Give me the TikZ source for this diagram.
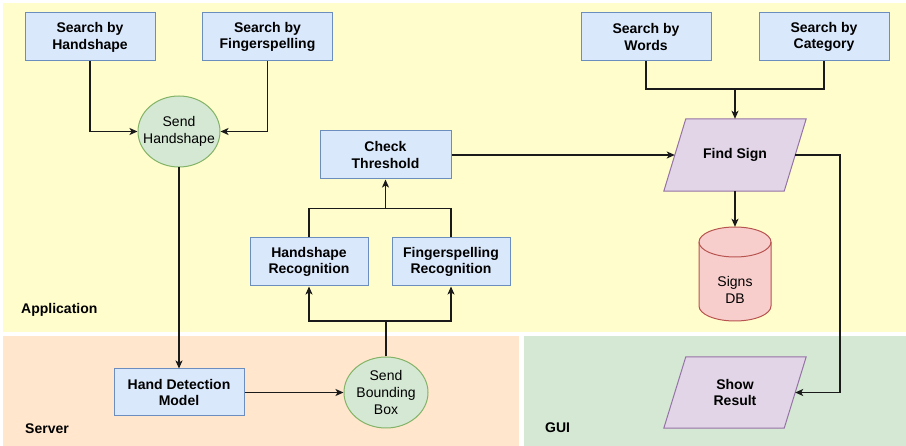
\documentclass[tikz,border=0pt]{standalone}
\usepackage{fontspec}
\setmainfont{Liberation Sans}
\usetikzlibrary{arrows.meta,shapes.geometric}
\definecolor{appc}{HTML}{FFFDCC}
\definecolor{serc}{HTML}{FFE6CC}
\definecolor{guic}{HTML}{D5E8D4}
\definecolor{boxfill}{HTML}{DAE8FC}
\definecolor{boxline}{HTML}{6C8EBF}
\definecolor{gfill}{HTML}{D5E8D4}
\definecolor{gline}{HTML}{82B366}
\definecolor{pfill}{HTML}{E1D5E7}
\definecolor{pline}{HTML}{9673A6}
\definecolor{rfill}{HTML}{F8CECC}
\definecolor{rline}{HTML}{B85450}
\definecolor{edge}{HTML}{1A1A1A}
\pgfdeclarelayer{back}
\pgfdeclarelayer{mid}
\pgfsetlayers{back,mid,main}
\begin{document}
\begin{tikzpicture}[x=1pt,y=-1pt,
  txt/.style={align=center, inner sep=0pt, font=\fontsize{14}{16.8}\selectfont\bfseries},
  box/.style={txt, draw=boxline, fill=boxfill, line width=1pt, minimum width=130pt, minimum height=48pt},
  ell/.style={ellipse, draw=gline, fill=gfill, line width=1pt, minimum width=82pt, minimum height=71pt, inner ysep=0pt, inner xsep=-8pt, align=center, font=\fontsize{14}{16.8}\selectfont},
  plain/.style={txt, minimum width=120pt, minimum height=72pt},
  para/.style={draw=pline, fill=pfill, line width=1pt},
  cyl/.style={draw=rline, fill=rfill, line width=1pt},
  lab/.style={font=\fontsize{14}{16.8}\selectfont\bfseries, inner sep=0pt, anchor=west},
  conn/.style={line width=1.3pt, draw=edge},
  arr/.style={conn, -{Stealth[length=8pt,width=7pt,inset=2pt]}}]
\useasboundingbox (0,0) rectangle (906,446);
\begin{pgfonlayer}{back}
\fill[white] (0,0) rectangle (906,446);
\fill[appc] (3,3) rectangle (906,332);
\fill[serc] (3,336) rectangle (519,446);
\fill[guic] (524,336) rectangle (906,446);
\end{pgfonlayer}

\node[lab] (lapp) at (21,310) {Application};
\node[lab] (lser) at (25,429) {Server};
\node[lab] (lgui) at (545,428) {GUI};

\node[box] (sbh) at (90,37) {Search by\\Handshape};
\node[box] (sbf) at (267.5,37) {Search by\\Fingerspelling};
\node[box] (sbw) at (646,37) {Search by\\Words};
\node[box] (sbc) at (824,37) {Search by\\Category};
\node[ell] (sh) at (179,131.5) {Send\\Handshape};
\node[box, minimum width=131pt] (ct) at (385.5,155) {Check\\Threshold};
\node[box, minimum width=118pt] (hr) at (309,262) {Handshape\\Recognition};
\node[box, minimum width=118pt] (fr) at (451,262) {Fingerspelling\\Recognition};
\node[box, minimum height=47pt] (hdm) at (179,392.5) {Hand Detection\\Model};
\node[ell, minimum width=84pt] (sbb) at (386,392.5) {Send\\Bounding\\Box};

\node[plain] (fs) at (735,155) {Find Sign};
\node[plain, minimum height=71pt] (sr) at (735,392.5) {Show\\Result};
\node[plain, minimum width=72pt, minimum height=94pt] (db) at (735,274)
  {\vphantom{X}};
\node[align=center, inner sep=0pt, font=\fontsize{14}{16.8}\selectfont] (dbt) at (735,290) {Signs\\DB};

\begin{pgfonlayer}{mid}
\draw[para] ([xshift=-11pt]fs.south west) -- ([xshift=-11pt]fs.south east)
  -- ([xshift=11pt]fs.north east) -- ([xshift=11pt]fs.north west) -- cycle;
\draw[para] ([xshift=-11pt]sr.south west) -- ([xshift=-11pt]sr.south east)
  -- ([xshift=11pt]sr.north east) -- ([xshift=11pt]sr.north west) -- cycle;
\draw[cyl] (699,242) -- (699,306) arc[start angle=180,end angle=360,x radius=36pt,y radius=15pt]
  -- (771,242) arc[start angle=0,end angle=180,x radius=36pt,y radius=15pt] -- cycle;
\draw[draw=rline, line width=1pt] (699,242) arc[start angle=180,end angle=360,x radius=36pt,y radius=15pt];
\end{pgfonlayer}

\coordinate (j1) at (386,321);
\coordinate (j2) at (385.5,208.7);
\coordinate (j3) at (735,89);
\coordinate (j4) at (840,155);

\draw[arr] (sbh.south) |- (sh.west);
\draw[arr] (sbf.south) |- (sh.east);
\draw[arr] (sh.south) -- (hdm.north);
\draw[arr] (hdm.east) -- (sbb.west);
\draw[conn] (sbb.north) -- (j1);
\draw[arr] (j1) -| (hr.south);
\draw[arr] (j1) -| (fr.south);
\draw[conn] (hr.north) |- (j2);
\draw[conn] (fr.north) |- (j2);
\draw[arr] (j2) -- (ct.south);
\draw[arr] (ct.east) -- (fs.west);
\draw[conn] (sbw.south) |- (j3);
\draw[conn] (sbc.south) |- (j3);
\draw[arr] (j3) -- (fs.north);
\draw[arr] (fs.south) -- (db.north);
\draw[arr] (fs.east) -- (j4) |- (sr.east);
\end{tikzpicture}
\end{document}
